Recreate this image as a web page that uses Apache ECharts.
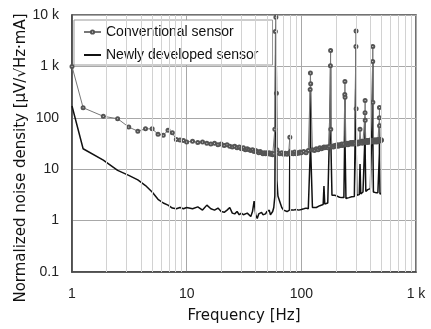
<!DOCTYPE html>
<html>
<head>
<meta charset="utf-8">
<script src="https://cdn.jsdelivr.net/npm/echarts@6/dist/echarts.min.js"></script>
<style>
html,body{margin:0;padding:0;background:#fff;}
#c{width:431px;height:329px;}
</style>
</head>
<body>
<div id="c"></div>
<script>
// Frequency points [Hz]
const freq = [
  1, 1.25, 1.875, 2.5, 3.125, 3.75, 4.375, 5, 5.625, 6.25, 6.875, 7.5, 8.125, 8.75, 9.375, 10,
  11.25, 12.5, 13.75, 15, 16.25, 17.5, 18.75, 20, 21.25, 22.5, 23.75, 25, 26.25, 27.5, 28.75, 30,
  31.25, 32.5, 33.75, 35, 36.25, 37.5, 38.75, 40, 41.25, 42.5, 43.75, 45, 46.25, 47.5, 48.75, 50,
  51.25, 52.5, 53.75, 55, 56.25, 57.5, 58.75, 59.375, 60, 60.625, 61.25, 62.5, 65, 67.5, 70, 72.5,
  75, 77.5, 78.75, 79.375, 80, 82.5, 85, 87.5, 90, 92.5, 95, 97.5, 100,
  105, 110, 115, 119.375, 120, 120.625, 125, 130, 135, 140, 145, 150, 155, 157.5, 160, 165, 170, 175,
  179.375, 180, 180.625, 185, 190, 195, 200, 205, 210, 215, 220, 225, 230, 235,
  239.375, 240, 240.625, 245, 250, 255, 260, 265, 270, 275, 280, 285, 290, 295,
  299.375, 300, 300.625, 305, 310, 315, 320, 325, 330, 335, 340, 345, 350, 355,
  359.375, 360, 360.625, 365, 370, 375, 380, 385, 390, 395, 400, 405, 410, 415,
  419.375, 420, 420.625, 425, 430, 435, 440, 445, 450, 455, 460, 465, 470, 475,
  479.375, 480, 480.625, 485, 490, 495, 500
];
// Conventional sensor [uV/sqrt(Hz)/mA]
const conventional = [
  1000, 157, 107, 96, 66, 55, 61, 61, 48, 46, 57, 51, 38, 37, 36, 34,
  35, 33, 34, 32, 31, 32, 30, 31, 29, 30, 28, 27, 28, 26, 27, 25,
  26, 24, 25, 24, 23, 24, 22, 23, 22, 21, 22, 21, 20, 21, 20, 21,
  20, 21, 19.5, 20.5, 19, 20, 60, 4750, 9000, 300, 24, 21, 20, 21, 19.5, 20.5,
  19.5, 20.5, 21, 42, 20, 21, 20, 21.5, 20, 21, 20.5, 21.5, 21,
  22, 21, 23, 355, 745, 460, 24, 23, 25, 24, 26, 25, 26, 27, 26, 27, 26, 28,
  1030, 2040, 60, 28, 27, 29, 28, 30, 28, 30, 29, 31, 29, 31,
  283, 510, 250, 30, 32, 30, 32, 31, 33, 31, 33, 31, 33, 32,
  2440, 4900, 150, 33, 31, 34, 32, 60, 33, 35, 32, 35, 33, 35,
  126, 217, 90, 34, 36, 33, 36, 34, 36, 34, 37, 34, 36, 35,
  1250, 2440, 200, 35, 37, 34, 37, 35, 37, 34, 37, 35, 38, 35,
  100, 158, 70, 36, 38, 36, 37
];
// Newly developed sensor [uV/sqrt(Hz)/mA]
const newlyDeveloped = [
  170, 25, 15, 9.5, 7.6, 6.2, 4.8, 3.6, 2.6, 2.2, 2.0, 1.75, 1.7, 1.8, 1.7, 1.8,
  1.7, 1.85, 1.6, 2.0, 1.7, 1.6, 1.75, 1.5, 1.45, 1.6, 1.8, 1.4, 1.35, 1.5, 1.3, 1.4,
  1.3, 1.25, 1.4, 1.3, 1.2, 1.5, 2.4, 1.3, 1.1, 1.35, 1.3, 1.45, 1.3, 1.4, 1.35, 1.5,
  1.4, 1.6, 1.3, 1.35, 1.5, 1.8, 3, 200, 5000, 600, 6, 3, 2.3, 1.8, 1.6, 1.55,
  1.5, 1.5, 1.6, 25, 1.6, 1.55, 1.6, 1.5, 1.65, 1.55, 1.6, 1.7, 1.65,
  1.7, 1.75, 1.7, 20, 350, 25, 1.8, 1.85, 1.8, 1.9, 1.95, 2.0, 2.05, 4.7, 2.1, 2.1, 2.2, 2.3,
  300, 1000, 40, 3.1, 3.0, 3.1, 2.9, 3.0, 2.9, 2.85, 2.9, 2.8, 2.75, 2.8,
  60, 250, 30, 2.7, 2.75, 2.7, 2.8, 2.75, 2.85, 2.9, 2.9, 3.0, 2.95, 3.0,
  800, 2440, 30, 3.1, 3.0, 3.1, 3.2, 12.6, 3.3, 3.3, 3.4, 3.6, 3.5, 3.6,
  50, 100, 20, 3.7, 3.8, 3.9, 4.0, 4.1, 4.2, 4.3, 4.2, 4.1, 4.1, 4.0,
  300, 1250, 40, 3.6, 3.9, 3.8, 3.6, 3.5, 3.4, 3.5, 3.4, 3.5, 3.6, 3.4,
  20, 80, 15, 3.3, 3.4, 3.3, 3.4
];
const xTickLabels = ['1', '10', '100', '1 k'];
const yTickLabels = ['0.1', '1', '10', '100', '1 k', '10 k'];
const minorX = [2,3,4,5,6,7,8,9,20,30,40,50,60,70,80,90,200,300,400,500,600,700,800,900];

const convData = freq.map((f, i) => [f, conventional[i]]);
const newData = freq.map((f, i) => [f, newlyDeveloped[i]]);

const chart = echarts.init(document.getElementById('c'), null, {renderer: 'canvas'});
const font = '"Liberation Sans", Arial, sans-serif';
chart.setOption({
  animation: false,
  backgroundColor: '#fff',
  textStyle: {fontFamily: font},
  grid: {left: 72, right: 15, top: 15, bottom: 55, show: true, borderColor: '#444', borderWidth: 1.5, containLabel: false},
  legend: {
    left: 74, top: 20, orient: 'vertical',
    backgroundColor: '#fff', borderColor: '#999', borderWidth: 1,
    padding: [5, 14, 3, 9], itemGap: 9, itemWidth: 17, itemHeight: 4,
    textStyle: {fontFamily: font, fontSize: 14, color: '#111'},
    data: [
      {name: 'Conventional sensor'},
      {name: 'Newly developed sensor', itemStyle: {opacity: 0}}
    ]
  },
  xAxis: {
    type: 'log', logBase: 10, min: 1, max: 1000,
    name: 'Frequency [Hz]', nameLocation: 'middle', nameGap: 37,
    nameTextStyle: {fontFamily: '"DejaVu Sans", sans-serif', fontSize: 15, color: '#111'},
    axisLine: {show: true, lineStyle: {color: '#444', width: 1.5}},
    axisTick: {show: false},
    axisLabel: {fontSize: 14, color: '#222', margin: 15,
      formatter: v => xTickLabels[Math.round(Math.log10(v))]},
    splitLine: {show: true, lineStyle: {color: '#a8a8a8', width: 1}},
    minorTick: {show: false}
  },
  yAxis: {
    type: 'log', logBase: 10, min: 0.1, max: 10000,
    axisLine: {show: true, lineStyle: {color: '#444', width: 1.5}},
    axisTick: {show: false},
    axisLabel: {fontSize: 14, color: '#222', margin: 13,
      formatter: v => yTickLabels[Math.round(Math.log10(v)) + 1]},
    splitLine: {show: true, lineStyle: {color: '#a8a8a8', width: 1}}
  },
  graphic: [{
    type: 'text', x: 21, y: 158, rotation: Math.PI / 2,
    style: {text: 'Normalized noise density [μV/√Hz·mA]', fill: '#111',
      font: '15px "DejaVu Sans", sans-serif', textAlign: 'center', textVerticalAlign: 'middle'}
  }],
  series: [
    {
      type: 'line', name: '_minor', data: [], z: 1, silent: true,
      markLine: {silent: true, symbol: 'none', animation: false, label: {show: false},
        lineStyle: {color: '#d2d2d2', type: 'solid', width: 1},
        data: minorX.map(v => ({xAxis: v}))}
    },
    {
      type: 'line', name: 'Newly developed sensor', data: newData, z: 3,
      symbol: 'none', lineStyle: {color: '#111', width: 1.5}, itemStyle: {color: '#111'}
    },
    {
      type: 'line', name: 'Conventional sensor', data: convData, z: 4,
      symbol: 'emptyCircle', symbolSize: 3, showSymbol: true,
      lineStyle: {color: '#777', width: 1},
      itemStyle: {color: '#555', borderColor: '#555', borderWidth: 1}
    }
  ]
});
</script>
</body>
</html>
